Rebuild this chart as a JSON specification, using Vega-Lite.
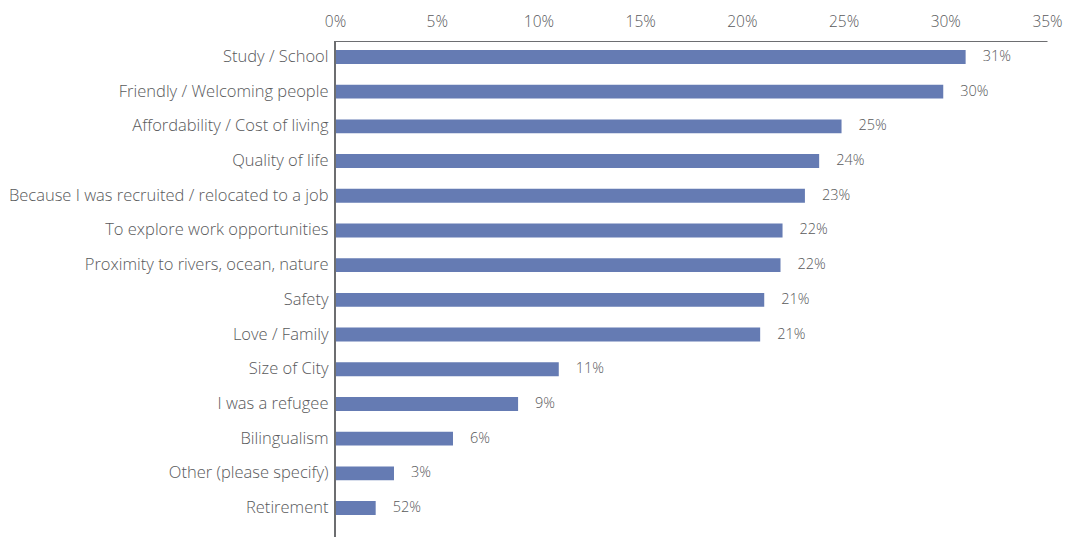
{
  "$schema": "https://vega.github.io/schema/vega-lite/v6.json",
  "width": 712,
  "height": 496,
  "autosize": "none",
  "padding": {"left": 335, "top": 41, "right": 20, "bottom": 0},
  "background": "white",
  "config": {
    "view": {"stroke": null},
    "font": "Open Sans",
    "text": {"font": "Open Sans"}
  },
  "data": {
    "values": [
      {"reason": "Study / School", "pct": 31.0, "label": "31%"},
      {"reason": "Friendly / Welcoming people", "pct": 29.9, "label": "30%"},
      {"reason": "Affordability / Cost of living", "pct": 24.9, "label": "25%"},
      {"reason": "Quality of life", "pct": 23.8, "label": "24%"},
      {"reason": "Because I was recruited / relocated to a job", "pct": 23.1, "label": "23%"},
      {"reason": "To explore work opportunities", "pct": 22.0, "label": "22%"},
      {"reason": "Proximity to rivers, ocean, nature", "pct": 21.9, "label": "22%"},
      {"reason": "Safety", "pct": 21.1, "label": "21%"},
      {"reason": "Love / Family", "pct": 20.9, "label": "21%"},
      {"reason": "Size of City", "pct": 11.0, "label": "11%"},
      {"reason": "I was a refugee", "pct": 9.0, "label": "9%"},
      {"reason": "Bilingualism", "pct": 5.8, "label": "6%"},
      {"reason": "Other (please specify)", "pct": 2.9, "label": "3%"},
      {"reason": "Retirement", "pct": 2.0, "label": "52%"}
    ]
  },
  "encoding": {
    "y": {
      "field": "reason",
      "type": "nominal",
      "sort": null,
      "scale": {"range": [0, 483], "paddingInner": 0.6, "paddingOuter": 0.26},
      "axis": {
        "title": null,
        "domain": false,
        "ticks": false,
        "labelPadding": 7,
        "labelFontSize": 16.5,
        "labelFontWeight": 300,
        "labelColor": "#58595b",
        "labelFont": "Open Sans",
        "labelLimit": 400
      }
    }
  },
  "layer": [
    {
      "mark": {"type": "bar", "color": "#657bb3"},
      "encoding": {
        "x": {
          "field": "pct",
          "type": "quantitative",
          "scale": {"domain": [0, 35], "nice": false},
          "axis": {
            "orient": "top",
            "title": null,
            "values": [0, 5, 10, 15, 20, 25, 30, 35],
            "labelExpr": "datum.value + '%'",
            "labelFlush": false,
            "grid": false,
            "ticks": false,
            "domain": true,
            "domainColor": "#6d6e71",
            "domainWidth": 1.2,
            "labelPadding": 12,
            "labelFontSize": 15.5,
            "labelFontWeight": 300,
            "labelColor": "#58595b",
            "labelFont": "Open Sans"
          }
        }
      }
    },
    {
      "mark": {"type": "text", "align": "left", "baseline": "middle", "dx": 17, "fontSize": 14.5, "fontWeight": 300, "color": "#58595b", "font": "Open Sans"},
      "encoding": {
        "x": {"field": "pct", "type": "quantitative"},
        "text": {"field": "label"}
      }
    },
    {
      "mark": {"type": "rule", "color": "#6d6e71", "strokeWidth": 1.2},
      "encoding": {
        "x": {"datum": 0},
        "y": {"value": 0},
        "y2": {"value": 496}
      }
    }
  ]
}
